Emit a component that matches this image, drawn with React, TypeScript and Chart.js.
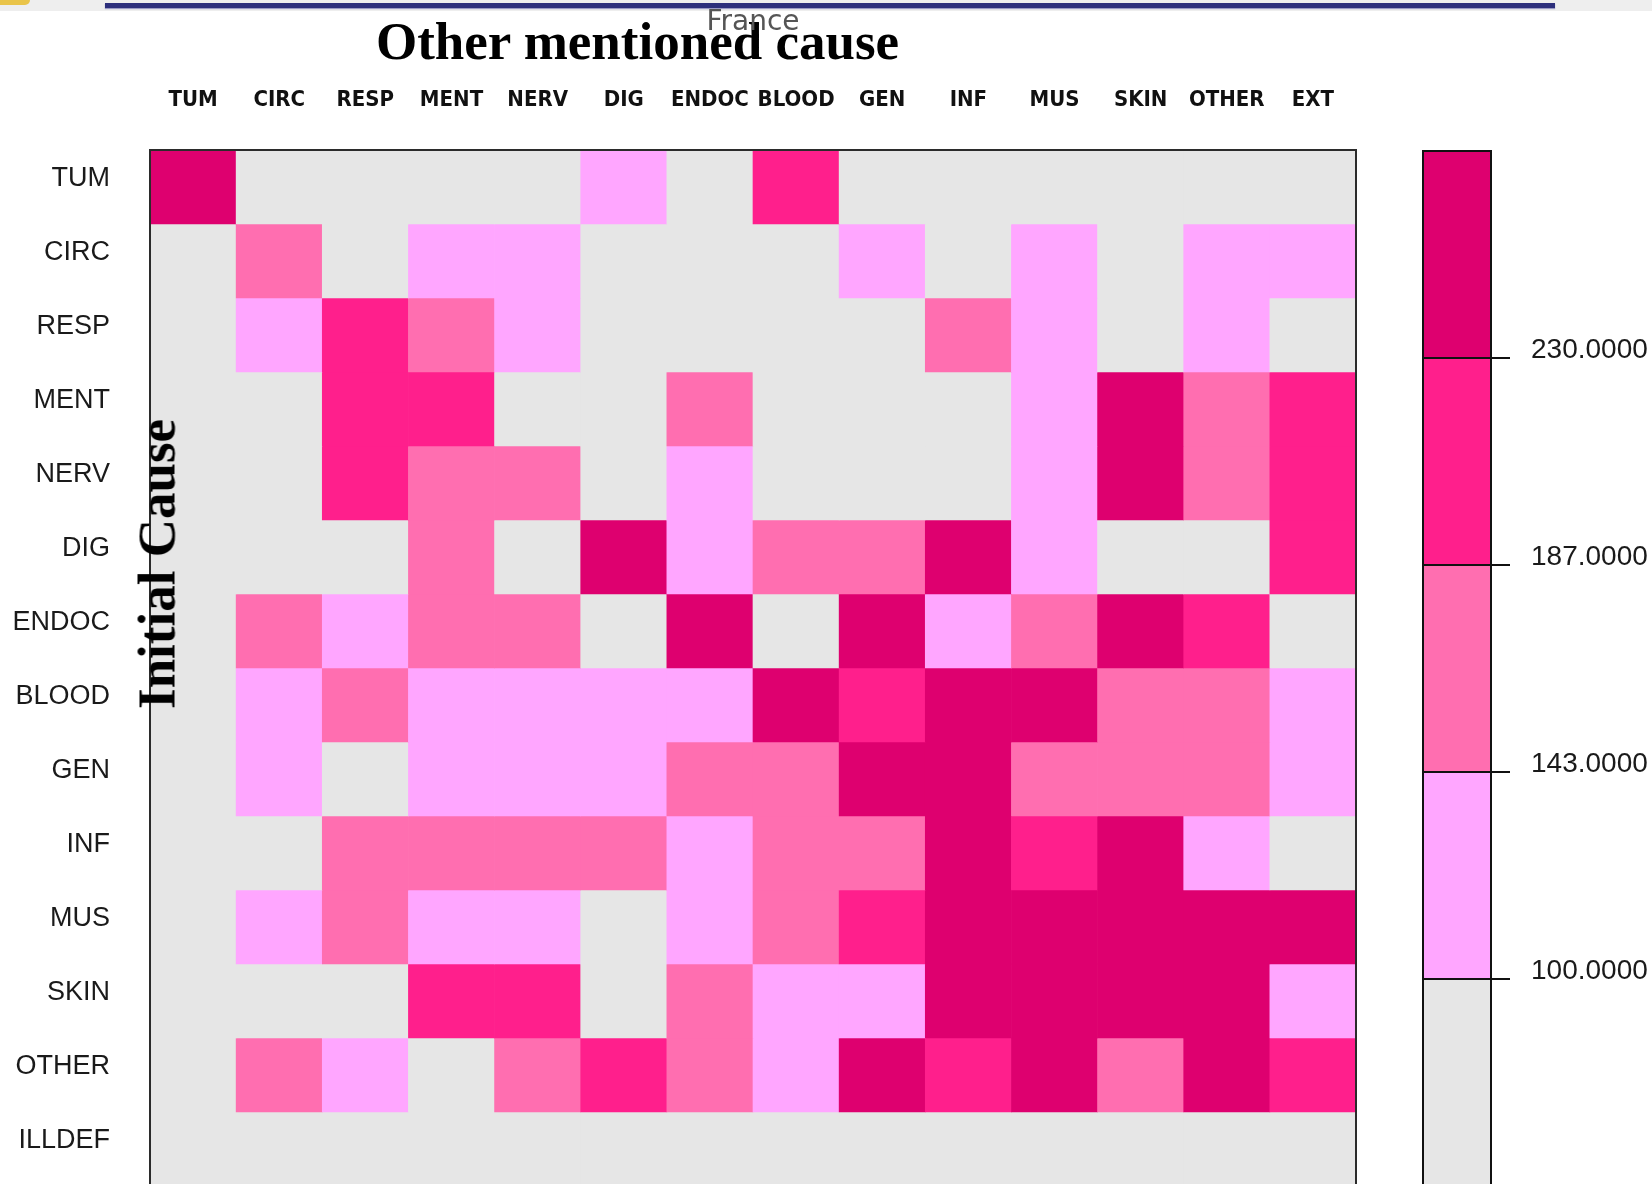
import React, { useEffect, useRef } from "react";
import { Chart, registerables } from "chart.js";

Chart.register(...registerables);

// Other mentioned cause (columns) and initial cause (rows)
const causeColumns = ["TUM", "CIRC", "RESP", "MENT", "NERV", "DIG", "ENDOC", "BLOOD", "GEN", "INF", "MUS", "SKIN", "OTHER", "EXT"];
const causeRows = ["TUM", "CIRC", "RESP", "MENT", "NERV", "DIG", "ENDOC", "BLOOD", "GEN", "INF", "MUS", "SKIN", "OTHER", "ILLDEF"];

// Association index per initial cause, one value per other mentioned cause
const rowTUM = [312, 48, 62, 71, 55, 118, 86, 204, 79, 68, 74, 57, 83, 45];
const rowCIRC = [66, 161, 94, 127, 121, 88, 97, 82, 112, 91, 134, 78, 119, 108];
const rowRESP = [52, 126, 216, 158, 114, 93, 84, 76, 89, 172, 138, 87, 129, 64];
const rowMENT = [41, 83, 198, 221, 96, 72, 149, 81, 77, 95, 117, 265, 176, 209];
const rowNERV = [58, 92, 207, 181, 167, 79, 131, 88, 73, 85, 124, 247, 164, 213];
const rowDIG = [61, 78, 87, 154, 98, 289, 136, 168, 152, 241, 109, 91, 97, 192];
const rowENDOC = [57, 146, 122, 171, 159, 94, 334, 99, 258, 128, 183, 236, 201, 75];
const rowBLOOD = [63, 113, 177, 133, 121, 140, 116, 356, 226, 271, 238, 169, 157, 130];
const rowGEN = [54, 107, 97, 119, 128, 137, 162, 174, 298, 262, 151, 178, 166, 122];
const rowINF = [69, 96, 148, 163, 157, 180, 115, 184, 147, 318, 218, 252, 139, 81];
const rowMUS = [47, 126, 155, 111, 132, 89, 105, 173, 195, 244, 401, 268, 233, 279];
const rowSKIN = [38, 82, 90, 211, 199, 93, 167, 135, 142, 249, 283, 523, 257, 118];
const rowOTHER = [72, 150, 141, 99, 175, 206, 160, 123, 240, 215, 255, 185, 292, 224];
const rowILLDEF = [45, 51, 58, 63, 49, 66, 54, 60, 71, 52, 57, 44, 77, 68];

const ratioMatrix = [rowTUM, rowCIRC, rowRESP, rowMENT, rowNERV, rowDIG, rowENDOC, rowBLOOD, rowGEN, rowINF, rowMUS, rowSKIN, rowOTHER, rowILLDEF];

// Class breaks of the colour scale and the colour of each class (low to high)
const thresholds = [100, 143, 187, 230];
const bandColors = ["#E6E6E6", "#FFA6FF", "#FF6EB0", "#FF1F8C", "#DE006F"];

function bandIndex(v: number): number {
  let i = 0;
  while (i < thresholds.length && v >= thresholds[i]) i++;
  return i;
}

// Outline around the plotting area
function framePlugin(color: string, width: number) {
  return {
    id: "frame",
    afterDatasetsDraw(chart: any) {
      const { ctx, chartArea: a } = chart;
      ctx.save();
      ctx.strokeStyle = color;
      ctx.lineWidth = width;
      ctx.strokeRect(a.left, a.top, a.right - a.left, a.bottom - a.top);
      ctx.restore();
    },
  };
}

const labelFont = "'Liberation Sans', Arial, sans-serif";
const headerFont = "'Liberation Sans Narrow', 'DejaVu Sans Condensed', 'Arial Narrow', 'Liberation Sans', sans-serif";
const serif = "'Liberation Serif', 'Times New Roman', serif";

function HeatMap() {
  const ref = useRef<HTMLCanvasElement>(null);
  useEffect(() => {
    if (!ref.current) return;
    const chart = new Chart(ref.current, {
      type: "bar",
      data: {
        labels: causeColumns,
        datasets: causeRows.map((row, r) => ({
          label: row,
          data: causeColumns.map(() => [r, r + 1]),
          backgroundColor: ratioMatrix[r].map((v) => bandColors[bandIndex(v)]),
          borderWidth: 0,
          barPercentage: 1,
          categoryPercentage: 1,
          grouped: false,
        })),
      } as any,
      options: {
        animation: false,
        responsive: false,
        events: [],
        layout: { padding: { left: 0, top: 0, right: 44, bottom: 30 } },
        plugins: { legend: { display: false }, tooltip: { enabled: false } },
        scales: {
          x: {
            type: "category",
            position: "top",
            offset: true,
            grid: { display: true, drawOnChartArea: false, drawTicks: true, tickLength: 29, color: "rgba(0,0,0,0)" },
            border: { display: false },
            ticks: {
              autoSkip: false,
              maxRotation: 0,
              padding: 8,
              color: "#111",
              font: { family: headerFont, size: 22, weight: "bold" },
            },
            afterFit: (s: any) => {
              s.height = 150;
            },
          },
          y: {
            type: "linear",
            min: 0,
            max: causeRows.length,
            reverse: true,
            grid: { display: true, drawOnChartArea: false, drawTicks: true, tickLength: 30, color: "rgba(0,0,0,0)" },
            border: { display: false },
            afterBuildTicks: (s: any) => {
              s.ticks = causeRows.map((_, i) => ({ value: i + 0.5 }));
            },
            ticks: {
              autoSkip: false,
              padding: 10,
              labelOffset: -8,
              color: "#1a1a1a",
              font: { family: labelFont, size: 27 },
              callback: (_v: any, i: number) => causeRows[i],
            },
            afterFit: (s: any) => {
              s.width = 150;
            },
          },
        },
      } as any,
      plugins: [framePlugin("#2b2b2b", 2)],
    });
    return () => chart.destroy();
  }, []);
  return (
    <canvas
      ref={ref}
      width={1400}
      height={1216}
      style={{ position: "absolute", left: 0, top: 0, width: 1400, height: 1216 }}
    />
  );
}

function ColorBar() {
  const ref = useRef<HTMLCanvasElement>(null);
  useEffect(() => {
    if (!ref.current) return;
    const chart = new Chart(ref.current, {
      type: "bar",
      data: {
        labels: [""],
        datasets: bandColors.map((c, i) => ({
          data: [[i, i + 1]],
          backgroundColor: c,
          borderWidth: 0,
          barPercentage: 1,
          categoryPercentage: 1,
          grouped: false,
        })),
      } as any,
      options: {
        animation: false,
        responsive: false,
        events: [],
        layout: { padding: { left: 23, top: 151, right: 0, bottom: 44 } },
        plugins: { legend: { display: false }, tooltip: { enabled: false } },
        scales: {
          x: { display: false },
          y: {
            type: "linear",
            position: "right",
            min: 0,
            max: bandColors.length,
            grid: { display: true, drawOnChartArea: true, drawTicks: true, tickLength: 19, color: "#111", lineWidth: 2, z: 1 },
            border: { display: false },
            afterBuildTicks: (s: any) => {
              s.ticks = thresholds.map((_, i) => ({ value: i + 1 }));
            },
            ticks: {
              autoSkip: false,
              padding: 21,
              labelOffset: -8,
              color: "#1a1a1a",
              font: { family: labelFont, size: 28 },
              callback: (_v: any, i: number) => thresholds[i].toFixed(4),
            },
            afterFit: (s: any) => {
              s.width = 161;
            },
          },
        },
      } as any,
      plugins: [framePlugin("#111", 2)],
    });
    return () => chart.destroy();
  }, []);
  return (
    <canvas
      ref={ref}
      width={252}
      height={1230}
      style={{ position: "absolute", left: 1400, top: 0, width: 252, height: 1230 }}
    />
  );
}

export default function App() {
  return (
    <div
      style={{
        position: "absolute",
        left: 0,
        top: 0,
        width: 1652,
        height: 1184,
        overflow: "hidden",
        background: "#ffffff",
      }}
    >
      {/* window strip along the top edge */}
      <div style={{ position: "absolute", left: 0, top: 0, width: 1652, height: 11, background: "#eeeeee" }} />
      <div style={{ position: "absolute", left: 0, top: 0, width: 30, height: 5, background: "#e9c44a", borderRadius: "0 0 6px 0" }} />
      <div
        style={{
          position: "absolute",
          left: 105,
          top: 3,
          width: 1450,
          height: 5,
          background: "#2d2f7c",
          boxShadow: "0 1px 1px #9a9ac4",
        }}
      />

      <HeatMap />
      <ColorBar />

      <div
        style={{
          position: "absolute",
          left: 376,
          top: 14,
          fontFamily: serif,
          fontWeight: "bold",
          fontSize: 53,
          lineHeight: "54px",
          whiteSpace: "nowrap",
          color: "#000",
        }}
      >
        Other mentioned cause
      </div>
      <div
        style={{
          position: "absolute",
          left: 753,
          top: 7,
          transform: "translateX(-50%)",
          fontFamily: "'DejaVu Sans', sans-serif",
          fontSize: 28,
          lineHeight: "28px",
          whiteSpace: "nowrap",
          color: "#555",
        }}
      >
        France
      </div>
      <div
        style={{
          position: "absolute",
          left: 157,
          top: 564,
          transform: "translate(-50%, -50%) rotate(-90deg)",
          fontFamily: serif,
          fontWeight: "bold",
          fontSize: 53,
          lineHeight: "53px",
          whiteSpace: "nowrap",
          color: "#000",
        }}
      >
        Initial Cause
      </div>
    </div>
  );
}
